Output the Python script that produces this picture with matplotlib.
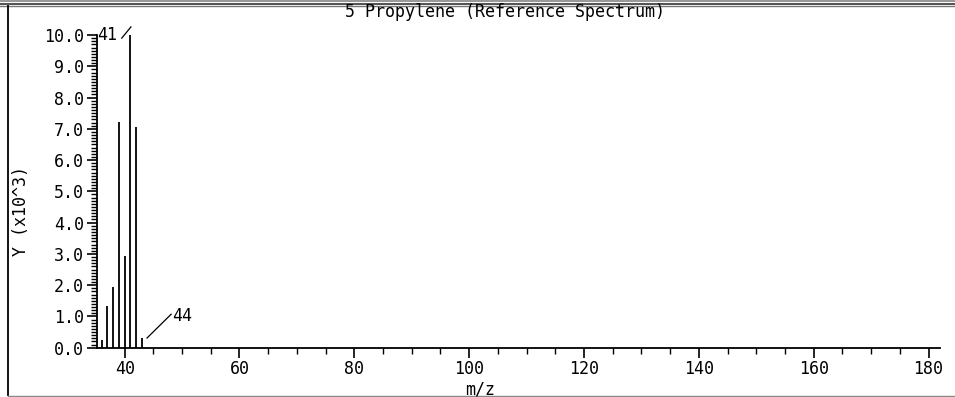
import matplotlib
matplotlib.use("Agg")
import matplotlib.pyplot as plt
from matplotlib.lines import Line2D
from matplotlib.ticker import MultipleLocator

# spectrum data (intensity in units of 10^3)
mz = [36, 37, 38, 39, 40, 41, 42, 43]
intensity = [0.25, 1.33, 1.95, 7.23, 2.93, 10.0, 7.05, 0.30]

title = "5 Propylene (Reference Spectrum)"
x_ticks = [40, 60, 80, 100, 120, 140, 160, 180]
y_ticks = [0, 1, 2, 3, 4, 5, 6, 7, 8, 9, 10]

plt.rcParams['font.family'] = ['DejaVu Sans Mono']
fs = 12

W, H = 955, 397
fig = plt.figure(figsize=(W / 100, H / 100), dpi=100)
ax = fig.add_axes([96.5 / W, 1 - 347.7 / H, (940 - 96.5) / W, (347.7 - 35) / H])

ax.vlines(mz, 0, intensity, colors='black', linewidth=1.3)

ax.set_xlim(35.1, 182)
ax.set_ylim(0, 10)

ax.spines['top'].set_visible(False)
ax.spines['right'].set_visible(False)
for s in ['left', 'bottom']:
    ax.spines[s].set_linewidth(1.3)

ax.set_xticks(x_ticks)
ax.xaxis.set_minor_locator(MultipleLocator(5))
ax.set_yticks(y_ticks)
ax.set_yticklabels(['%.1f' % v for v in y_ticks])
ax.yaxis.set_minor_locator(MultipleLocator(0.1))
ax.tick_params(which='major', length=7, width=1.2, labelsize=fs, pad=2)
ax.tick_params(which='minor', length=4, width=1.0)

# peak labels with leader lines
ax.text(38.7, 10.0, '41', ha='right', va='center', fontsize=fs)
ax.plot([39.5, 41.1], [9.9, 10.26], color='black', lw=0.9, clip_on=False)
ax.text(48.2, 1.02, '44', ha='left', va='center', fontsize=fs)
ax.plot([43.9, 48.1], [0.31, 1.07], color='black', lw=0.9, clip_on=False)

fig.text(505 / W, 1 - 12 / H, title, ha='center', va='center', fontsize=fs)
fig.text(480 / W, 1 - 389 / H, 'm/z', ha='center', va='center', fontsize=fs)
fig.text(21 / W, 1 - 211 / H, 'Y (x10^3)', ha='center', va='center', rotation=90, fontsize=fs)

# window frame
fig.add_artist(Line2D([0, 1], [1 - 1 / H, 1 - 1 / H], color='#999999', lw=1.5))
fig.add_artist(Line2D([0, 1], [1 - 3.5 / H, 1 - 3.5 / H], color='#333333', lw=1.2))
fig.add_artist(Line2D([0, 1], [1 - 5.5 / H, 1 - 5.5 / H], color='#777777', lw=1.0))
fig.add_artist(Line2D([7.5 / W, 7.5 / W], [1 - 6 / H, 1 - 395 / H], color='black', lw=1.3))
fig.add_artist(Line2D([7.5 / W, 1], [1 - 395.5 / H, 1 - 395.5 / H], color='#888888', lw=1.0))

fig.savefig('out.png', dpi=100)
